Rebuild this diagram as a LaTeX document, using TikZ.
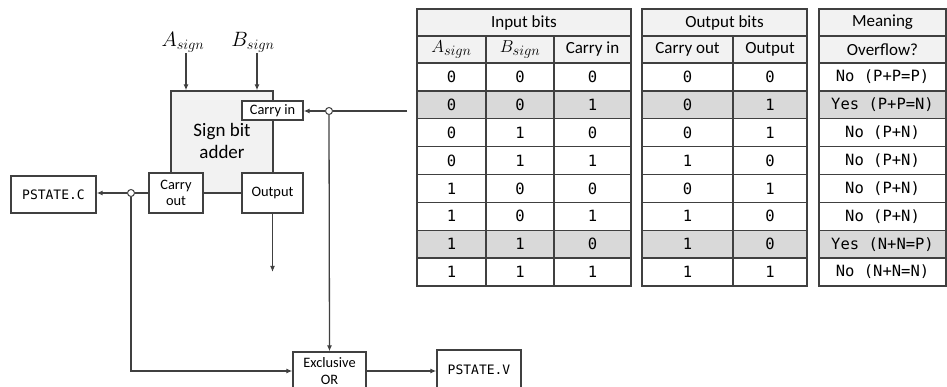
\documentclass[tikz,border=0pt]{standalone}
\usepackage{fontspec}
\setmainfont{Carlito}
\newfontfamily\monof{DejaVu Sans Mono}
\usetikzlibrary{arrows.meta}
\definecolor{ln}{HTML}{404040}
\definecolor{hdr}{HTML}{F2F2F2}
\definecolor{shd}{HTML}{D9D9D9}
\begin{document}
\begin{tikzpicture}[x=1pt,y=-1pt,
  blk/.style={draw=ln, line width=1.3pt, fill=white, inner sep=0pt, font=\fontsize{14.4}{16.5}\selectfont, align=center},
  wire/.style={draw=ln, line width=1.3pt},
  arr/.style={wire,-{Latex[length=6pt,width=5pt]}},
  junc/.style={circle, draw=ln, line width=1pt, fill=white, minimum size=7pt, inner sep=0pt},
  tbl/.style={draw=ln, line width=1.3pt},
  ttxt/.style={font=\fontsize{17}{20}\selectfont, inner sep=0pt},
  tmono/.style={font=\monof\fontsize{15.5}{18}\selectfont, inner sep=0pt},
  mlab/.style={font=\fontsize{20}{22}\selectfont, inner sep=1pt}]
\useasboundingbox (0,0) rectangle (947,387);
\clip (0,0) rectangle (947,387);

% ---------- diagram ----------
\node[blk, fill=hdr, minimum width=102pt, minimum height=102pt,
      font=\fontsize{19}{22}\selectfont] (main) at (222,142) {};
\node[font=\fontsize{19}{22}\selectfont, align=center] (mtxt) at (222,141) {Sign bit\\adder};
\node[blk, minimum width=61pt, minimum height=19pt] (cin) at (272.5,110.5) {Carry in};
\node[blk, minimum width=54pt, minimum height=40pt] (cout) at (176,193) {Carry\\out};
\node[blk, minimum width=61pt, minimum height=40pt] (out) at (272.5,193) {Output};
\node[blk, minimum width=85pt, minimum height=37pt, font=\monof\fontsize{13}{15}\selectfont] (pc) at (53.5,194.5) {PSTATE.C};
\node[blk, minimum width=73pt, minimum height=38pt] (xor) at (329.5,371) {Exclusive\\OR};
\node[blk, minimum width=84pt, minimum height=40pt, font=\monof\fontsize{13}{15}\selectfont] (pv) at (479,370) {PSTATE.V};

\node[mlab] (al) at (183,42) {$A_{sign}$};
\node[mlab] (bl) at (253,42) {$B_{sign}$};
\draw[arr] ([xshift=3pt]al.south) -- ([xshift=3pt]al.south |- main.north);
\draw[arr] ([xshift=4pt]bl.south) -- ([xshift=4pt]bl.south |- main.north);

\coordinate (csrc) at (407,111);
\coordinate (oend) at (272.5,272);
\node[junc] (j1) at (329,111) {};
\node[junc] (j2) at (131,193) {};

\draw[wire] (csrc) -- (j1.east);
\draw[arr] (j1.west) -- (j1.west -| cin.east);
\draw[arr] (j1.south) -- (xor.north);
\draw[wire] (cout.west) -- (j2.east);
\draw[arr] (j2.west) -- (j2.west -| pc.east);
\draw[arr] (j2.south) |- (xor.west);
\draw[arr] (xor.east) -- (xor.east -| pv.west);
\draw[arr] (out.south) -- (oend);

% ---------- tables ----------
\def\ya{9}\def\yb{36}\def\yc{63}\def\yd{286}
% fills
\foreach \xl/\xr in {417/631, 642/807, 819/946}{
  \fill[hdr] (\xl,\ya) rectangle (\xr,\yc);
  \foreach \r in {2,7}{
    \pgfmathsetmacro\ytop{\yc+27.875*(\r-1)}
    \pgfmathsetmacro\ybot{\yc+27.875*\r}
    \fill[shd] (\xl,\ytop) rectangle (\xr,\ybot);
  }
  \draw[tbl] (\xl,\ya) rectangle (\xr,\yd);
  \draw[tbl] (\xl,\yb) -- (\xr,\yb);
  \draw[tbl] (\xl,\yc) -- (\xr,\yc);
  \foreach \r in {1,...,7}{
    \pgfmathsetmacro\yy{\yc+27.875*\r}
    \draw[tbl] (\xl,\yy) -- (\xr,\yy);
  }
}
\draw[tbl] (486,\yb) -- (486,\yd);
\draw[tbl] (554,\yb) -- (554,\yd);
\draw[tbl] (733,\yb) -- (733,\yd);

% headers
\node[ttxt] (h1) at (524,22.5) {Input bits};
\node[ttxt] (h2) at (724.5,22.5) {Output bits};
\node[ttxt] (h3) at (882.5,22.5) {Meaning};
\node[ttxt, font=\fontsize{19}{21}\selectfont] (s1) at (451.5,49.5) {$A_{sign}$};
\node[ttxt, font=\fontsize{19}{21}\selectfont] (s2) at (520,49.5) {$B_{sign}$};
\node[ttxt] (s3) at (592.5,49.5) {Carry in};
\node[ttxt] (s4) at (687.5,49.5) {Carry out};
\node[ttxt] (s5) at (770,49.5) {Output};
\node[ttxt] (s6) at (882.5,49.5) {Overflow?};

% data
\foreach \r/\a/\b/\c/\co/\o/\m in {
  1/0/0/0/0/0/{No (P+P=P)},
  2/0/0/1/0/1/{Yes (P+P=N)},
  3/0/1/0/0/1/{No (P+N)},
  4/0/1/1/1/0/{No (P+N)},
  5/1/0/0/0/1/{No (P+N)},
  6/1/0/1/1/0/{No (P+N)},
  7/1/1/0/1/0/{Yes (N+N=P)},
  8/1/1/1/1/1/{No (N+N=N)}}{
  \pgfmathsetmacro\ym{\yc+27.875*(\r-0.5)}
  \node[tmono] (da\r) at (451.5,\ym) {\a};
  \node[tmono] (db\r) at (520,\ym) {\b};
  \node[tmono] (dc\r) at (592.5,\ym) {\c};
  \node[tmono] (dd\r) at (687.5,\ym) {\co};
  \node[tmono] (de\r) at (770,\ym) {\o};
  \node[tmono] (df\r) at (882.5,\ym) {\m};
}
\end{tikzpicture}
\end{document}
